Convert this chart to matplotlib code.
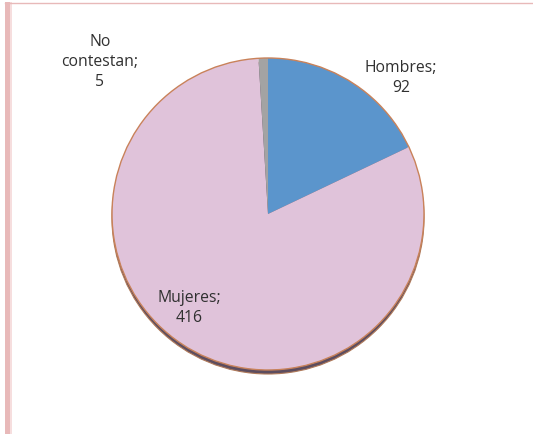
import matplotlib.pyplot as plt
from matplotlib.patches import Circle, Rectangle

# survey answers by sex
labels = ['Hombres', 'Mujeres', 'No contestan']
counts = [92, 416, 5]
colors = ['#5b95cc', '#e0c3da', '#a3a3a3']

W, H = 533, 435
fig = plt.figure(figsize=(W / 100, H / 100), dpi=100)
fig.set_facecolor('white')
ax = fig.add_axes([0, 0, 1, 1])

cx, cy, r = 268, -215, 156

# dark rim under the pie, slightly lower so it shows along the bottom
ax.add_patch(Circle((cx, cy - 4), r, facecolor='#5d4d5f', edgecolor='#b07a5a',
                    linewidth=0.8, zorder=1))

wedges, _ = ax.pie(counts, colors=colors, startangle=90, counterclock=False,
                   center=(cx, cy), radius=r,
                   wedgeprops=dict(edgecolor='none'))
for w in wedges:
    w.set_zorder(2)

# thin warm outline round the whole pie
ax.add_patch(Circle((cx, cy), r, facecolor='none', edgecolor='#c9825a',
                    linewidth=1.0, zorder=3))

ax.set_aspect('auto')
ax.set_xlim(0, W)
ax.set_ylim(-H, 0)
ax.axis('off')

# page border on top and left
ax.add_patch(Rectangle((5, -H), 5, H - 3, facecolor='#e8b9b9', edgecolor='none', zorder=4))
ax.add_patch(Rectangle((10, -H), 1.5, H - 3, facecolor='#f6dede', edgecolor='none', zorder=4))
ax.plot([5, W], [-3.5, -3.5], color='#e8b9b9', linewidth=1.0, zorder=4)

font = dict(family='Open Sans', fontsize=11.3, color='#303030', ha='center', va='center',
            linespacing=1.3, zorder=5)
label_pos = [(401, -78), (189, -308), (100, -62)]
for name, n, (x, y) in zip(labels, counts, label_pos):
    if n < 10:
        name = name.replace(' ', '\n')
    ax.text(x, y, f'{name};\n{n}', **font)

fig.savefig('out.png', dpi=100, facecolor='white')
